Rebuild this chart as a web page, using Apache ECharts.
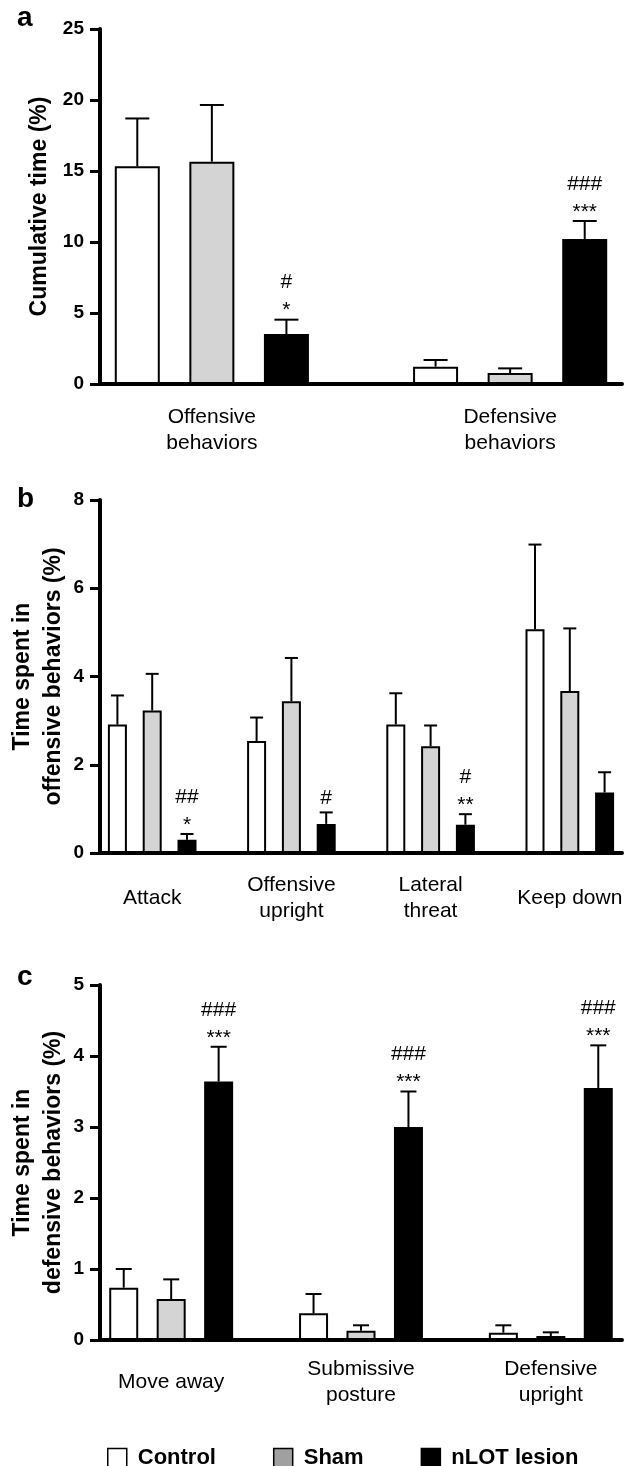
<!DOCTYPE html>
<html><head><meta charset="utf-8">
<script src="https://cdn.jsdelivr.net/npm/echarts@6/dist/echarts.min.js"></script>
<style>html,body{margin:0;padding:0;background:#fff}#c{width:628px;height:1466px}</style>
</head><body><div id="c"></div>
<script>
const seriesNames = ['Control', 'Sham', 'nLOT lesion'];

// Panel a
const groupsA = ['Offensive\nbehaviors', 'Defensive\nbehaviors'];
const controlA = [15.33, 1.22];
const shamA = [15.66, 0.77];
const lesionA = [3.52, 10.21];
const controlSemA = [3.37, 0.47];
const shamSemA = [3.99, 0.33];
const lesionSemA = [1.01, 1.27];
const lesionMarksA = [['#', '*'], ['###', '***']];
const ticksA = [0, 5, 10, 15, 20, 25];

// Panel b
const groupsB = ['Attack', 'Offensive\nupright', 'Lateral\nthreat', 'Keep down'];
const controlB = [2.91, 2.54, 2.91, 5.07];
const shamB = [3.23, 3.44, 2.42, 3.67];
const lesionB = [0.30, 0.66, 0.64, 1.37];
const controlSemB = [0.66, 0.53, 0.71, 1.92];
const shamSemB = [0.83, 0.98, 0.47, 1.42];
const lesionSemB = [0.13, 0.26, 0.24, 0.46];
const lesionMarksB = [['##', '*'], ['#'], ['#', '**'], []];
const ticksB = [0, 2, 4, 6, 8];

// Panel c
const groupsC = ['Move away', 'Submissive\nposture', 'Defensive\nupright'];
const controlC = [0.737, 0.376, 0.103];
const shamC = [0.577, 0.131, 0.056];
const lesionC = [3.64, 3.00, 3.55];
const controlSemC = [0.263, 0.272, 0.104];
const shamSemC = [0.277, 0.076, 0.052];
const lesionSemC = [0.49, 0.50, 0.60];
const lesionMarksC = [['###', '***'], ['###', '***'], ['###', '***']];
const ticksC = [0, 1, 2, 3, 4, 5];

const FONT = '"Liberation Sans", Arial, Helvetica, sans-serif';
const fills = ['#ffffff', '#d4d4d4', '#000000'];

const panels = [
  {groups: groupsA, vals: [controlA, shamA, lesionA], sems: [controlSemA, shamSemA, lesionSemA],
   marks: lesionMarksA, ticks: ticksA, top: 29, height: 355, barW: 45, capW: 24, margin: 46,
   name: 'Cumulative time (%)', nameGap: 45},
  {groups: groupsB, vals: [controlB, shamB, lesionB], sems: [controlSemB, shamSemB, lesionSemB],
   marks: lesionMarksB, ticks: ticksB, top: 500, height: 353, barW: 19, capW: 13, margin: 45,
   name: 'Time spent in\noffensive behaviors (%)', nameGap: 31},
  {groups: groupsC, vals: [controlC, shamC, lesionC], sems: [controlSemC, shamSemC, lesionSemC],
   marks: lesionMarksC, ticks: ticksC, top: 985, height: 355, barW: 29, capW: 16, margin: 42,
   name: 'Time spent in\ndefensive behaviors (%)', nameGap: 31}
];

const grid = [], xAxis = [], yAxis = [], series = [];
panels.forEach((p, pi) => {
  const nSlots = p.groups.length * 4 - 1;
  const cats = [];
  for (let i = 0; i < nSlots; i++) cats.push(i % 4 === 1 ? p.groups[(i - 1) / 4] : '');
  grid.push({left: 100, right: 6, top: p.top, height: p.height, outerBoundsMode: 'none', containLabel: false});
  xAxis.push({
    type: 'category', gridIndex: pi, data: cats, boundaryGap: true,
    axisLine: {show: true, onZero: false, lineStyle: {color: '#000', width: 4}},
    axisTick: {show: false}, splitLine: {show: false},
    axisLabel: {interval: 0, hideOverlap: false, color: '#000', fontFamily: FONT, fontSize: 21,
      lineHeight: 26, verticalAlign: 'middle', margin: p.margin}
  });
  const tmax = p.ticks[p.ticks.length - 1];
  yAxis.push({
    type: 'value', gridIndex: pi, min: p.ticks[0], max: tmax, interval: p.ticks[1] - p.ticks[0],
    name: p.name, nameLocation: 'middle', nameRotate: 90, nameGap: p.nameGap, nameMoveOverlap: false,
    nameTextStyle: {color: '#000', fontFamily: FONT, fontSize: 23, fontWeight: 'bold', lineHeight: 31, align: 'center'},
    axisLine: {show: true, lineStyle: {color: '#000', width: 4}},
    axisTick: {show: true, length: 10, lineStyle: {color: '#000', width: 3}},
    splitLine: {show: false},
    axisLabel: {color: '#000', fontFamily: FONT, fontSize: 19, fontWeight: 'bold', margin: 16}
  });
  const errData = [];
  const errMarks = [];
  for (let s = 0; s < 3; s++) {
    const data = new Array(nSlots).fill('-');
    p.groups.forEach((g, gi) => {
      const slot = gi * 4 + s;
      data[slot] = p.vals[s][gi];
      errData.push([slot, p.vals[s][gi], p.vals[s][gi] + p.sems[s][gi]]);
      errMarks.push(s === 2 ? p.marks[gi] : []);
    });
    series.push({
      type: 'bar', name: seriesNames[s], xAxisIndex: pi, yAxisIndex: pi, data: data,
      barWidth: p.barW, barGap: '-100%', silent: true, animation: false,
      itemStyle: {color: fills[s], borderColor: '#000', borderWidth: 2}
    });
  }
  const capW = p.capW;
  series.push({
    type: 'custom', name: 'err' + pi, xAxisIndex: pi, yAxisIndex: pi, data: errData,
    animation: false, silent: true, z: 5,
    renderItem: function (params, api) {
      const x = api.value(0), m = api.value(1), t = api.value(2);
      const p0 = api.coord([x, m]);
      const p1 = api.coord([x, t]);
      const children = [
        {type: 'line', shape: {x1: p0[0], y1: p0[1], x2: p1[0], y2: p1[1]}, style: {stroke: '#000', lineWidth: 2}},
        {type: 'line', shape: {x1: p1[0] - capW / 2, y1: p1[1], x2: p1[0] + capW / 2, y2: p1[1]}, style: {stroke: '#000', lineWidth: 2}}
      ];
      const lines = errMarks[params.dataIndex].slice().reverse();
      lines.forEach((txt, k) => {
        const cy = p1[1] - 14 - 23 * k + (txt.indexOf('*') >= 0 ? 5 : 0);
        children.push({type: 'text', style: {text: txt, x: p1[0], y: cy, align: 'center', verticalAlign: 'middle',
          fontFamily: FONT, fontSize: 21, fill: '#000'}});
      });
      return {type: 'group', children: children};
    }
  });
});

const letters = [['a', 18], ['b', 499], ['c', 977]];
const graphic = letters.map(l => ({
  type: 'text', x: 17, y: l[1],
  style: {text: l[0], fontFamily: FONT, fontSize: 28, fontWeight: 'bold', fill: '#000', align: 'left', verticalAlign: 'middle'}
}));

const chart = echarts.init(document.getElementById('c'), null, {renderer: 'canvas'});
chart.setOption({
  backgroundColor: '#fff',
  animation: false,
  grid: grid, xAxis: xAxis, yAxis: yAxis, series: series, graphic: graphic,
  legend: {
    left: 102, top: 1442, orient: 'horizontal', itemWidth: 19, itemHeight: 19, itemGap: 57,
    icon: 'rect', selectedMode: false,
    textStyle: {color: '#000', fontFamily: FONT, fontSize: 22, fontWeight: 'bold', padding: [0, 0, 0, 6]},
    data: [
      {name: 'Control', itemStyle: {color: '#ffffff', borderColor: '#000', borderWidth: 1.5}},
      {name: 'Sham', itemStyle: {color: '#a0a0a0', borderColor: '#000', borderWidth: 1.5}},
      {name: 'nLOT lesion', itemStyle: {color: '#000000', borderColor: '#000', borderWidth: 1.5}}
    ]
  }
});
</script>
</body></html>
